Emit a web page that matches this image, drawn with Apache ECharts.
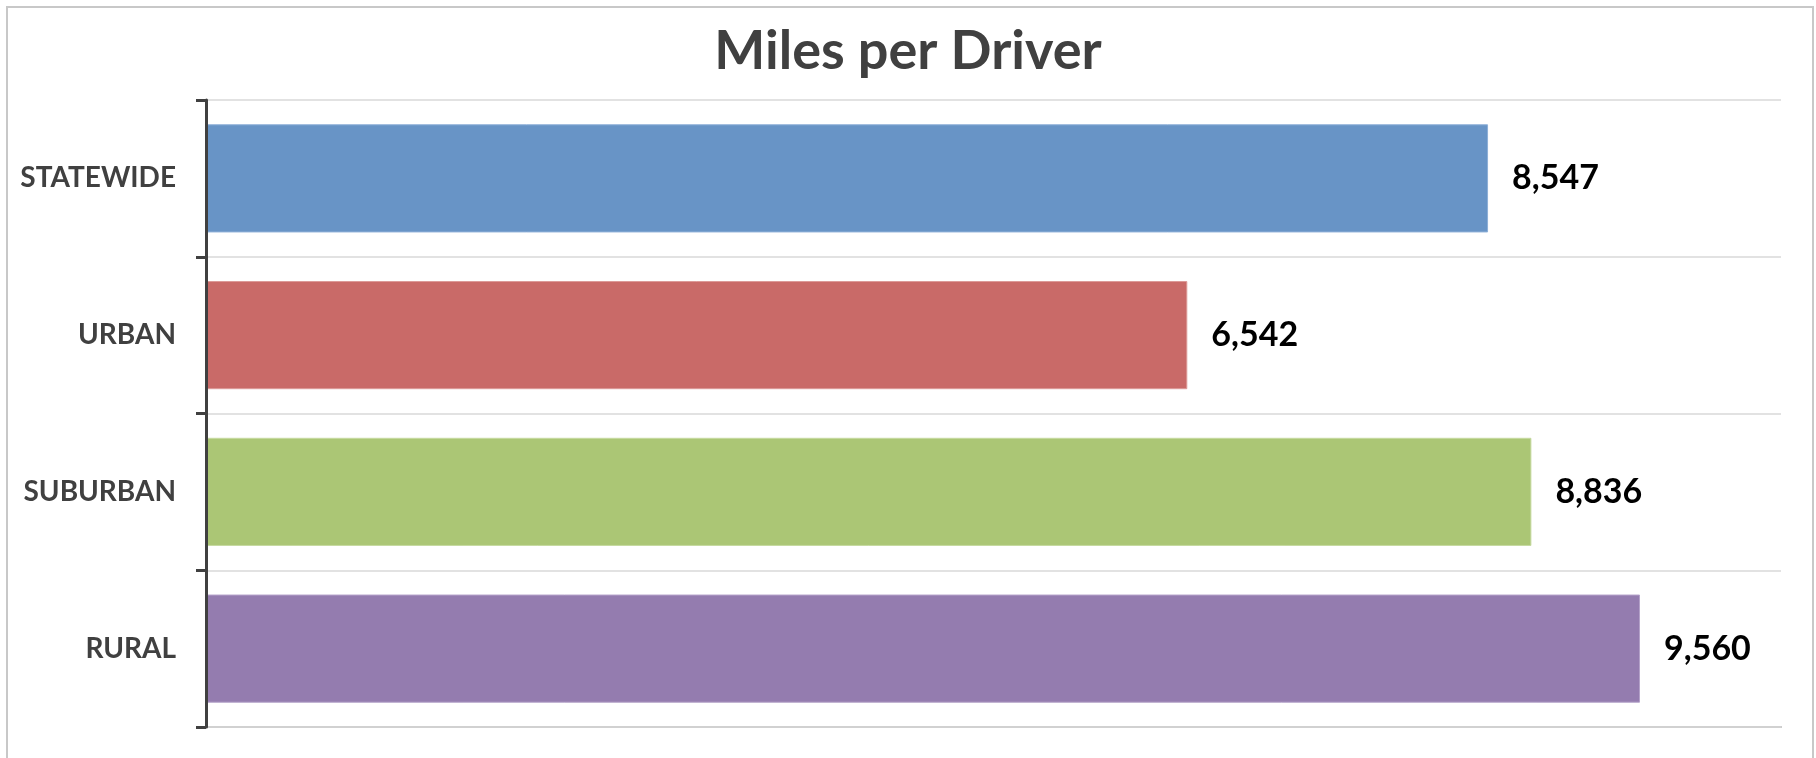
<!DOCTYPE html>
<html>
<head>
<meta charset="utf-8">
<script src="https://cdn.jsdelivr.net/npm/echarts@6/dist/echarts.min.js"></script>
<style>
  html, body { margin: 0; padding: 0; background: #fff; }
  #chart { width: 1816px; height: 758px; }
</style>
</head>
<body>
<div id="chart"></div>
<script>
const categories = ['STATEWIDE', 'URBAN', 'SUBURBAN', 'RURAL']
const milesPerDriver = [8547, 6542, 8836, 9560]
const barColors = ['#6894c6', '#c96a68', '#abc675', '#947caf']
const barEdges = ['#8fb0d8', '#dc9a98', '#c6daa0', '#b4a2c9']

const chart = echarts.init(document.getElementById('chart'))

const fmt = v => v.toLocaleString('en-US')

chart.setOption({
  animation: false,
  textStyle: { fontFamily: 'Lato' },
  title: {
    text: 'Miles per Driver',
    left: 'center',
    top: 20,
    textStyle: { fontSize: 54, fontWeight: 'bold', color: '#404040', fontFamily: 'Lato' }
  },
  graphic: [{
    type: 'rect',
    shape: { x: 7, y: 7, width: 1806, height: 800 },
    style: { fill: 'none', stroke: '#c8c8c8', lineWidth: 2 },
    silent: true
  }],
  grid: { left: 206, right: 35, top: 100, bottom: 31 },
  xAxis: {
    type: 'value',
    min: 0,
    max: 10500,
    axisLabel: { show: false },
    axisTick: { show: false },
    splitLine: { show: false },
    axisLine: { show: true, lineStyle: { color: '#bdbdbd', width: 2 } }
  },
  yAxis: {
    type: 'category',
    inverse: true,
    z: 5,
    data: categories,
    axisLine: { show: true, lineStyle: { color: '#404040', width: 3 } },
    axisTick: { show: true, alignWithLabel: false, length: 10, lineStyle: { color: '#404040', width: 3 } },
    axisLabel: { margin: 30, fontSize: 28, fontWeight: 'bold', color: '#404040', fontFamily: 'Lato' },
    splitLine: { show: true, lineStyle: { color: '#d9d9d9', width: 1.5 } }
  },
  series: [{
    type: 'bar',
    barCategoryGap: '31%',
    data: milesPerDriver.map((v, i) => ({
      value: v,
      itemStyle: { color: barColors[i], borderColor: barEdges[i], borderWidth: 1 }
    })),
    label: {
      show: true,
      position: 'right',
      distance: 24,
      formatter: p => fmt(p.value),
      fontSize: 34,
      fontWeight: 'bold',
      color: '#000',
      fontFamily: 'Lato'
    }
  }]
})
</script>
</body>
</html>
